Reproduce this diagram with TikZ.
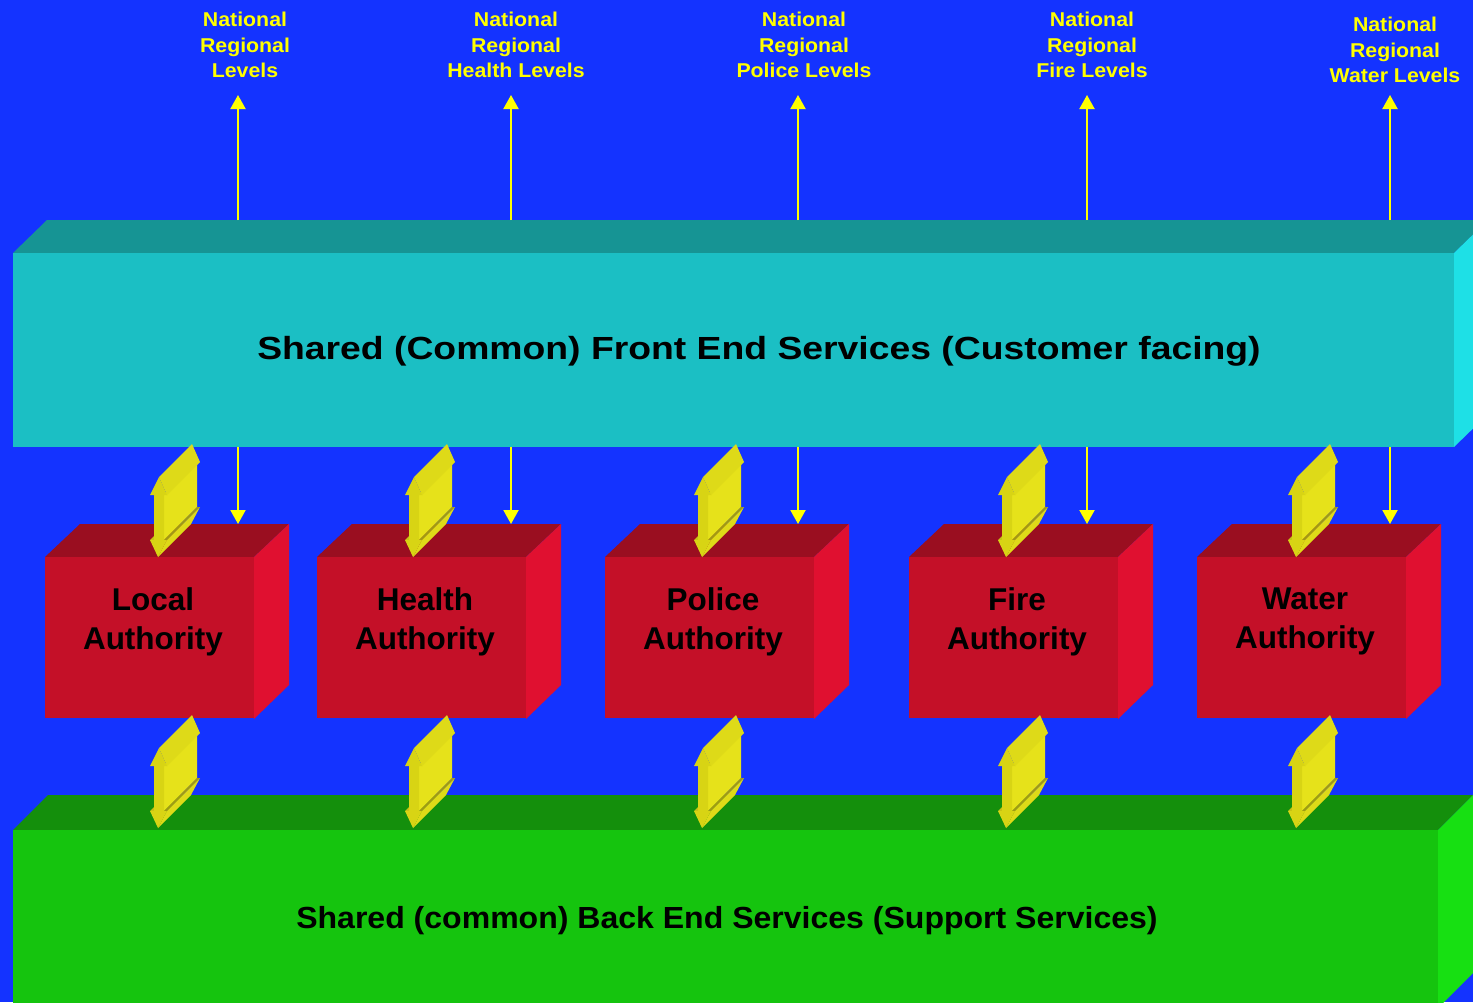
\documentclass[tikz,border=0pt]{standalone}
\usepackage{fontspec}
\setmainfont{Liberation Sans}
\newfontfamily\barfont[FakeStretch=1.166]{Liberation Sans}
\newfontfamily\backfont[FakeStretch=1.05]{Liberation Sans}
\newfontfamily\labfont[FakeStretch=1.065]{Liberation Sans}
\usetikzlibrary{arrows.meta}
\definecolor{bg}{HTML}{1433FF}
\definecolor{cyanfront}{HTML}{1BBFC4}
\definecolor{cyantop}{HTML}{169494}
\definecolor{cyanside}{HTML}{1EE0E6}
\definecolor{greenfront}{HTML}{15C40E}
\definecolor{greentop}{HTML}{148F0C}
\definecolor{greenside}{HTML}{17E012}
\definecolor{redfront}{HTML}{C41028}
\definecolor{redtop}{HTML}{9A0E20}
\definecolor{redside}{HTML}{E01030}
\definecolor{yfront}{HTML}{D8D414}
\definecolor{yside}{HTML}{E6E21A}
\definecolor{yhead}{HTML}{DEDA18}
\definecolor{yolive}{HTML}{A09A14}
\definecolor{yleft}{HTML}{C8C214}
\definecolor{labyellow}{HTML}{FFFF00}
\tikzset{
  thinarr/.style={draw=labyellow, line width=2pt, -{Triangle[width=15pt,length=14pt]}},
  lab/.style={text=labyellow, align=center, inner sep=0pt, font=\labfont\bfseries\fontsize{20}{25.5}\selectfont},
  boxfront/.style={fill=redfront, inner sep=0pt, minimum width=209pt, minimum height=161pt, anchor=north west},
  boxtext/.style={text=black, align=center, inner sep=0pt, font=\bfseries\fontsize{31.5}{39}\selectfont},
  dbl/.pic={
    \fill[yleft] (-8,-17) -- (-4,-17) -- (29,-50) -- (25,-50) -- cycle;
    \fill[yside] (6,-62) -- (6,-17) -- (39,-50) -- (39,-95) -- cycle;
    \fill[yolive] (6,-17) -- (9,-17) -- (42,-50) -- (39,-50) -- cycle;
    \fill[yhead] (9,-17) -- (0,0) -- (33,-33) -- (42,-50) -- cycle;
    \fill[yhead] (1,-80) -- (9,-62) -- (42,-95) -- (34,-113) -- cycle;
    \fill[yfront] (1,-80) -- (9,-62) -- (6,-62) -- (6,-17) -- (9,-17) -- (0,0)
      -- (-8,-17) -- (-4,-17) -- (-4,-62) -- (-8,-62) -- cycle;
  }
}
\begin{document}
\begin{tikzpicture}[x=1pt,y=-1pt]
\useasboundingbox (0,0) rectangle (1473,1002);
\clip (0,0) rectangle (1473,1002);
\fill[bg] (0,0) rectangle (1473,1002);

% front bar
\fill[cyantop] (13,253) -- (47,220) -- (1488,220) -- (1454,253) -- cycle;
\fill[cyanside] (1454,253) -- (1488,220) -- (1488,414) -- (1454,447) -- cycle;
\node[fill=cyanfront, inner sep=0pt, minimum width=1441pt, minimum height=194pt, anchor=north west] (frontbar) at (13,253) {};
\node[anchor=base, inner sep=0pt, font=\barfont\bfseries\fontsize{32}{38}\selectfont] (fronttext) at (759,359) {Shared (Common) Front End Services (Customer facing)};

% back bar
\fill[greentop] (13,830) -- (48,795) -- (1473,795) -- (1438,830) -- cycle;
\fill[greenside] (1438,830) -- (1473,795) -- (1473,973) -- (1438,1008) -- cycle;
\node[fill=greenfront, inner sep=0pt, minimum width=1425pt, minimum height=178pt, anchor=north west] (backbar) at (13,830) {};
\node[anchor=base, inner sep=0pt, font=\backfont\bfseries\fontsize{30.5}{36}\selectfont] (backtext) at (727,928) {Shared (common) Back End Services (Support Services)};

% authority boxes
\foreach \x/\nm/\lbl in {45/loc/Local,317/hea/Health,605/pol/Police,909/fir/Fire,1197/wat/Water}{
  \fill[redtop] (\x,557) -- ++(35,-33) -- ++(209,0) -- ++(-35,33) -- cycle;
  \fill[redside] (\x+209,557) -- ++(35,-33) -- ++(0,161) -- ++(-35,34) -- cycle;
  \node[boxfront] (\nm) at (\x,557) {};
  \node[boxtext] (\nm txt) at (\x+108,621.5) {\lbl\\Authority};
}

% thin arrows
\foreach \i/\ax in {1/238,2/511,3/798,4/1087,5/1390}{
  \coordinate (ut\i) at (\ax,220);
  \coordinate (uh\i) at (\ax,95);
  \draw[thinarr] (ut\i) -- (uh\i);
  \coordinate (ds\i) at (\ax,447);
  \coordinate (de\i) at (\ax,524);
  \draw[thinarr] (ds\i) -- (de\i);
}

% 3D double arrows
\foreach \i/\bx in {1/158,2/413,3/702,4/1006,5/1296}{
  \pic (upper\i) at (\bx,557) {dbl};
  \pic (lower\i) at (\bx,828) {dbl};
}

% level labels
\node[lab] (lab1) at (245,45.3) {National\\Regional\\Levels};
\node[lab] (lab2) at (516,45.3) {National\\Regional\\Health Levels};
\node[lab] (lab3) at (804,45.3) {National\\Regional\\Police Levels};
\node[lab] (lab4) at (1092,45.3) {National\\Regional\\Fire Levels};
\node[lab] (lab5) at (1395,50.3) {National\\Regional\\Water Levels};
\end{tikzpicture}
\end{document}
